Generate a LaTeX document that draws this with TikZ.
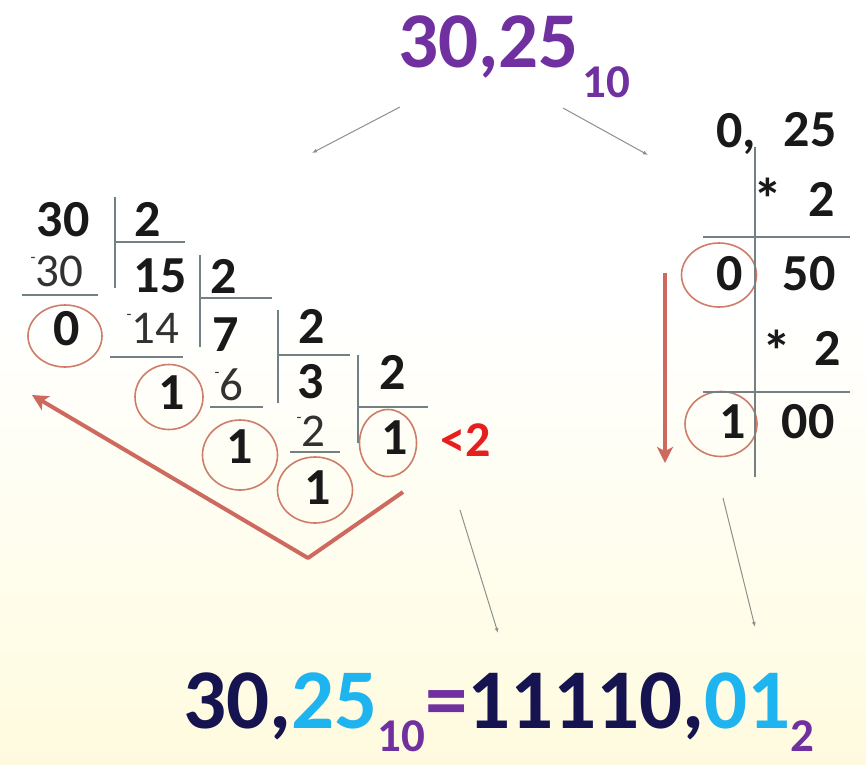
\documentclass[tikz,border=0pt]{standalone}
\usepackage{fontspec}
\setmainfont{Carlito}
\usetikzlibrary{shapes.geometric,arrows.meta}
\definecolor{tpurple}{RGB}{112,48,160}
\definecolor{tnavy}{RGB}{22,20,80}
\definecolor{tcyan}{RGB}{30,180,240}
\definecolor{ringc}{RGB}{205,125,105}
\definecolor{redarr}{RGB}{205,105,95}
\definecolor{divline}{RGB}{115,128,132}
\definecolor{thinarr}{RGB}{140,145,140}
\definecolor{redtxt}{RGB}{230,30,30}
\definecolor{numc}{RGB}{25,25,25}
\definecolor{subc}{RGB}{50,50,50}
\definecolor{bgY}{RGB}{255,240,196}
\definecolor{bgM}{RGB}{255,252,228}
\pgfdeclareverticalshading{bgshade}{100bp}{color(0bp)=(bgY); color(30bp)=(bgM); color(55bp)=(white); color(100bp)=(white)}
\newcommand{\mk}{\raisebox{0.5em}{\fontsize{16}{16}\selectfont -}}
\begin{document}
\begin{tikzpicture}[x=1pt,y=-1pt,
  num/.style={inner sep=0pt,font=\bfseries\fontsize{52}{56}\selectfont,text=numc},
  subn/.style={inner sep=0pt,font=\fontsize{47}{50}\selectfont,text=subc},
  ring/.style={draw=ringc,line width=1.6pt,ellipse,inner sep=0pt},
  dline/.style={draw=divline,line width=1.8pt},
  bigarr/.style={draw=redarr,line width=4pt,-{Stealth[length=16pt,width=16pt,inset=4pt]}},
  thin/.style={draw=thinarr,line width=1pt,-{Latex[length=5pt,width=4pt]}},
  star/.style={inner sep=0pt,font=\bfseries\fontsize{58}{58}\selectfont,text=numc}]
\shade[shading=bgshade] (0,0) rectangle (866,764);
\useasboundingbox (0,0) rectangle (866,764);
% title
\node[inner sep=0pt,anchor=base west,text=tpurple,font=\bfseries\fontsize{79}{80}\selectfont] (title) at (398,67) {30,25\kern4pt\raisebox{-30pt}{\fontsize{47}{47}\selectfont 10}};
% thin arrows from title
\coordinate (tl1) at (400,107); \coordinate (tl2) at (312,153);
\coordinate (tr1) at (563,108); \coordinate (tr2) at (648,155);
\draw[thin] (tl1) -- (tl2);
\draw[thin] (tr1) -- (tr2);
% left division
\node[num] (a30) at (63,220) {30};
\node[num] (a2) at (148,219) {2};
\node[subn] (s30) at (57,271) {\mk 30};
\node[num] (a15) at (160,276) {15};
\node[num] (b2) at (224,276) {2};
\node[num] (r0) at (67,329) {0};
\node[ring,minimum width=74pt,minimum height=62pt] (c0) at (65,336) {};
\node[subn] (s14) at (153,328) {\mk 14};
\node[num] (a7) at (226,335) {7};
\node[num] (c2) at (312,326) {2};
\node[num] (r1) at (172,393) {1};
\node[ring,minimum width=68pt,minimum height=65pt] (c1) at (169,397) {};
\node[subn] (s6) at (229,385) {\mk 6};
\node[num] (a3) at (311,382) {3};
\node[num] (d2) at (393,372) {2};
\node[num] (r2) at (240,447) {1};
\node[ring,minimum width=75pt,minimum height=70pt] (c2r) at (240,455) {};
\node[subn] (s2) at (311,431) {\mk 2};
\node[num] (r3) at (318,488) {1};
\node[ring,minimum width=75pt,minimum height=66pt] (c3) at (315,490) {};
\node[num] (r4) at (395,438) {1};
\node[ring,minimum width=57pt,minimum height=67pt] (c4) at (388,443) {};
\node[inner sep=0pt,font=\bfseries\fontsize{50}{52}\selectfont,text=redtxt] (lt) at (466,440) {<2};
% division lines
\coordinate (v1t) at (115,197); \coordinate (v1b) at (115,288);
\coordinate (h1l) at (115,242); \coordinate (h1r) at (185,242);
\coordinate (u1l) at (22,295); \coordinate (u1r) at (98,295);
\coordinate (v2t) at (200,255); \coordinate (v2b) at (200,347);
\coordinate (h2l) at (200,298); \coordinate (h2r) at (272,298);
\coordinate (u2l) at (110,357); \coordinate (u2r) at (183,357);
\coordinate (v3t) at (278,310); \coordinate (v3b) at (278,403);
\coordinate (h3l) at (278,355); \coordinate (h3r) at (350,355);
\coordinate (u3l) at (210,407); \coordinate (u3r) at (263,407);
\coordinate (v4t) at (358,355); \coordinate (v4b) at (358,443);
\coordinate (h4l) at (358,407); \coordinate (h4r) at (428,407);
\coordinate (u4l) at (290,452); \coordinate (u4r) at (340,452);
\draw[dline] (v1t) -- (v1b) (h1l) -- (h1r) (u1l) -- (u1r);
\draw[dline] (v2t) -- (v2b) (h2l) -- (h2r) (u2l) -- (u2r);
\draw[dline] (v3t) -- (v3b) (h3l) -- (h3r) (u3l) -- (u3r);
\draw[dline] (v4t) -- (v4b) (h4l) -- (h4r) (u4l) -- (u4r);
% red V arrow
\coordinate (va) at (403,492); \coordinate (vb) at (308,558); \coordinate (vc) at (32,395);
\draw[bigarr,line join=round] (va) -- (vb) -- (vc);
% right side
\node[num,anchor=base west] (p0) at (716,147) {0,};
\node[num] (p25) at (810,130) {25};
\node[star] (st1) at (768,199) {*};
\node[num] (m2a) at (822,199) {2};
\node[num] (q0) at (730,274) {0};
\node[ring,minimum width=75pt,minimum height=64pt] (cq0) at (719,275) {};
\node[num] (q50) at (809,274) {50};
\node[star] (st2) at (777,351) {*};
\node[num] (m2b) at (828,348) {2};
\node[num] (q1) at (733,422) {1};
\node[ring,minimum width=72pt,minimum height=65pt] (cq1) at (721,424) {};
\node[num] (q00) at (808,422) {00};
\coordinate (rvt) at (755,147); \coordinate (rvb) at (755,477);
\coordinate (rh1l) at (703,237); \coordinate (rh1r) at (850,237);
\coordinate (rh2l) at (703,392); \coordinate (rh2r) at (850,392);
\draw[dline] (rvt) -- (rvb) (rh1l) -- (rh1r) (rh2l) -- (rh2r);
\coordinate (da) at (665,273); \coordinate (db) at (665,463);
\draw[bigarr] (da) -- (db);
% lower thin arrows
\coordinate (bl1) at (460,510); \coordinate (bl2) at (498,633);
\coordinate (br1) at (723,498); \coordinate (br2) at (755,627);
\draw[thin] (bl1) -- (bl2);
\draw[thin] (br1) -- (br2);
% result
\node[inner sep=0pt,anchor=base west,font=\bfseries\fontsize{85}{88}\selectfont] (res) at (183,728)
 {\textcolor{tnavy}{30,}\textcolor{tcyan}{25}\textcolor{tpurple}{\raisebox{-23pt}{\fontsize{47}{47}\selectfont 10}=}\textcolor{tnavy}{11110,}\textcolor{tcyan}{01}\textcolor{tpurple}{\raisebox{-23pt}{\fontsize{47}{47}\selectfont 2}}};
\end{tikzpicture}
\end{document}
